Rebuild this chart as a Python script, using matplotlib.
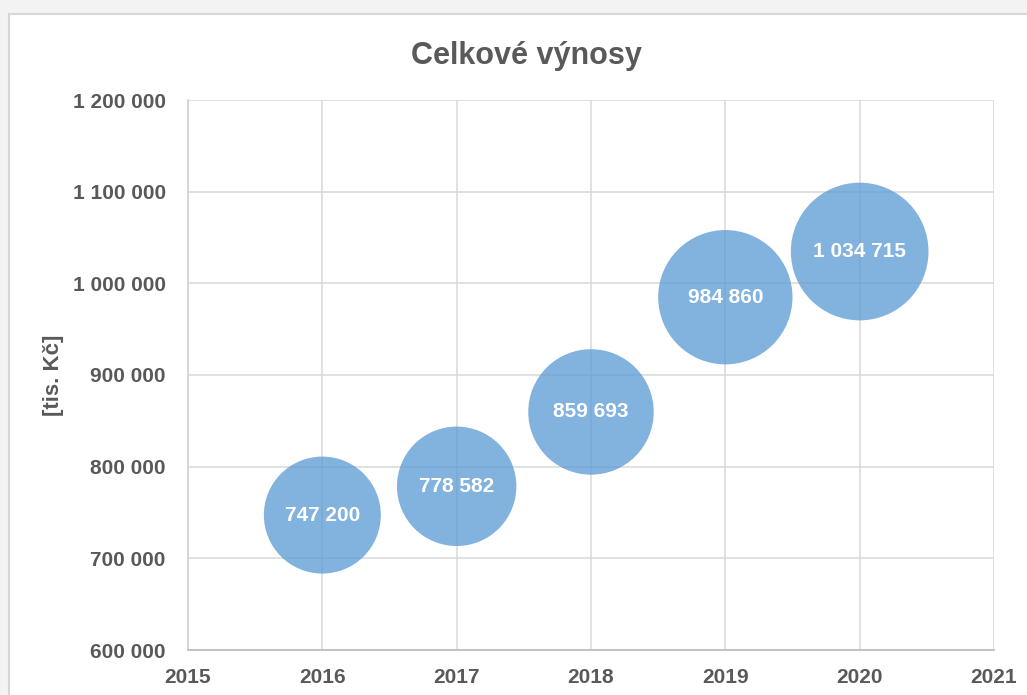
import numpy as np
import matplotlib.pyplot as plt
from matplotlib.patches import Rectangle
from matplotlib.ticker import FuncFormatter, MultipleLocator

years = [2016, 2017, 2018, 2019, 2020]
vynosy = [747200, 778582, 859693, 984860, 1034715]
popisky = ['747 200', '778 582', '859 693', '984 860', '1 034 715']

plt.rcParams['font.family'] = ['Liberation Sans', 'DejaVu Sans']
txt = '#595959'

W, H = 1027, 695
fig = plt.figure(figsize=(W / 100, H / 100), dpi=100)
fig.patch.set_facecolor('#F3F3F3')

# white chart area with thin border (screenshot frame)
fig.patches.append(Rectangle((9 / W, -0.1), 1.2, 1 - 14 / H + 0.1,
                             transform=fig.transFigure, facecolor='white',
                             edgecolor='#D6D6D6', linewidth=1.5, zorder=-5))

ax = fig.add_axes([188 / W, 1 - 650 / H, (994 - 188) / W, (650 - 100) / H])
ax.set_facecolor('white')

# bubble area proportional to value (Excel style)
v = np.array(vynosy, dtype=float)
d_ref = 117 * 0.72  # diameter in points of the smallest bubble
sizes = (d_ref ** 2) * v / v.min()
ax.scatter(years, vynosy, s=sizes, color='#5B9BD5', alpha=0.76,
           edgecolors='none', zorder=3)

for x, y, lab in zip(years, vynosy, popisky):
    ax.text(x, y, lab, ha='center', va='center', color='white',
            fontsize=15, fontweight='bold', zorder=4)

ax.set_xlim(2015, 2021)
ax.set_ylim(600000, 1200000)
ax.xaxis.set_major_locator(MultipleLocator(1))
ax.yaxis.set_major_locator(MultipleLocator(100000))
ax.yaxis.set_major_formatter(FuncFormatter(lambda val, p: f'{int(val):,}'.replace(',', ' ')))

ax.grid(True, color='#D9D9D9', linewidth=1.1, zorder=0)
ax.set_axisbelow(True)
for s in ['top', 'right']:
    ax.spines[s].set_visible(False)
ax.spines['bottom'].set_color('#BFBFBF')
ax.spines['bottom'].set_linewidth(1.3)
ax.spines['left'].set_color('#CFCFCF')
ax.spines['left'].set_linewidth(1.1)

ax.tick_params(axis='both', length=0, labelsize=15, labelcolor=txt)
ax.tick_params(axis='x', pad=13)
ax.tick_params(axis='y', pad=16)
for lab in ax.get_xticklabels() + ax.get_yticklabels():
    lab.set_fontweight('bold')

fig.text(54 / W, 1 - 375 / H, '[tis. Kč]', rotation=90, ha='center', va='center',
         fontsize=16, fontweight='bold', color=txt)
fig.text(526 / W, 1 - 56 / H, 'Celkové výnosy', ha='center', va='center',
         fontsize=22, fontweight='bold', color=txt)

fig.savefig('out.png', dpi=100, facecolor=fig.get_facecolor())
